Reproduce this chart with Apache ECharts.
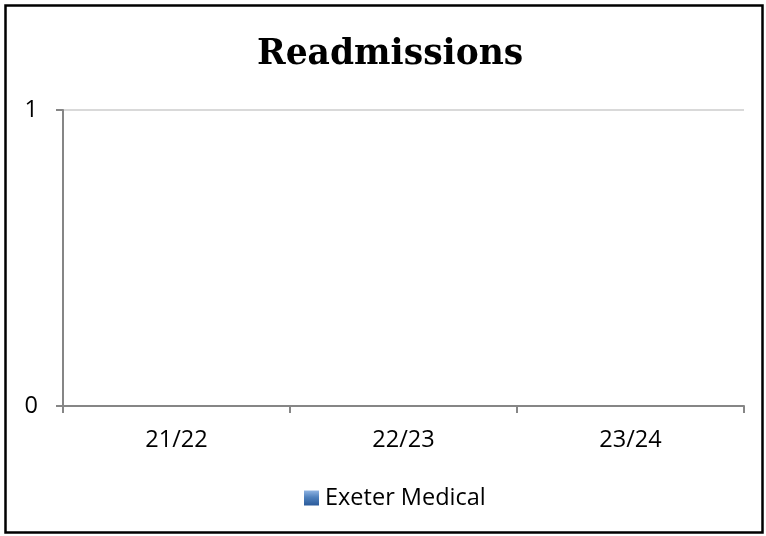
<!DOCTYPE html>
<html>
<head>
<meta charset="utf-8">
<script src="https://cdn.jsdelivr.net/npm/echarts@6/dist/echarts.min.js"></script>
<style>
  html, body { margin: 0; padding: 0; background: #fff; }
  #chart { width: 766px; height: 536px; }
</style>
</head>
<body>
<div id="chart"></div>
<script>
// data
const categories = ['21/22', '22/23', '23/24']
const seriesName = 'Exeter Medical'
const readmissions = [0, 0, 0]
const yTicks = [0, 1]

let myChart = echarts.init(document.getElementById('chart'))

const labelFont = {
  fontFamily: 'Open Sans',
  fontSize: 23.5,
  color: '#000'
}

let option = {
  animation: false,
  backgroundColor: '#fff',
  title: {
    text: 'Readmissions',
    left: 252,
    top: 33,
    textStyle: {
      fontFamily: 'DejaVu Serif',
      fontWeight: 'bold',
      fontSize: 34.5,
      color: '#000'
    }
  },
  legend: {
    top: 481,
    left: 299,
    icon: 'rect',
    itemWidth: 15,
    itemHeight: 15,
    itemGap: 6,
    textStyle: Object.assign({}, labelFont, { padding: [0, 0, 0, 1] }),
    data: [seriesName]
  },
  grid: {
    left: 63,
    right: 22,
    top: 110,
    bottom: 130
  },
  xAxis: {
    type: 'category',
    data: categories,
    boundaryGap: true,
    axisLine: { lineStyle: { color: '#868686', width: 2 } },
    axisTick: { show: true, length: 7, lineStyle: { color: '#868686', width: 2 } },
    axisLabel: Object.assign({ margin: 22 }, labelFont)
  },
  yAxis: {
    type: 'value',
    min: yTicks[0],
    max: yTicks[yTicks.length - 1],
    interval: 1,
    axisLine: { show: true, lineStyle: { color: '#868686', width: 2 } },
    axisTick: { show: true, length: 7, lineStyle: { color: '#868686', width: 2 } },
    splitLine: { show: true, lineStyle: { color: '#d9d9d9', width: 2 } },
    axisLabel: Object.assign({ margin: 25 }, labelFont)
  },
  series: [
    {
      name: seriesName,
      type: 'bar',
      data: readmissions,
      itemStyle: {
        color: new echarts.graphic.LinearGradient(0, 0, 0, 1, [
          { offset: 0, color: '#8fb4e3' },
          { offset: 0.45, color: '#4f81bd' },
          { offset: 1, color: '#2a5a9a' }
        ])
      }
    }
  ],
  graphic: [
    {
      type: 'rect',
      shape: { x: 5.5, y: 5.5, width: 757, height: 527 },
      style: { fill: 'none', stroke: '#000', lineWidth: 2.5 },
      z: 100
    }
  ]
}

option && myChart.setOption(option)
</script>
</body>
</html>
